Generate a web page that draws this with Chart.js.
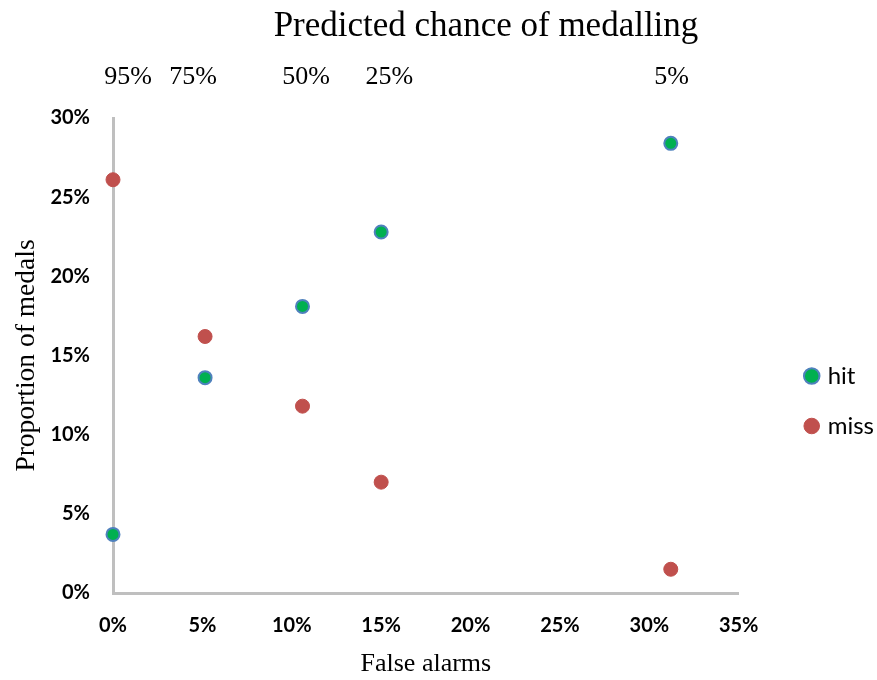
<!DOCTYPE html>
<html lang="en">
<head>
  <meta charset="UTF-8">
  <title>Predicted chance of medalling</title>
  <script src="https://cdn.jsdelivr.net/npm/chart.js"></script>
  <style>
    html, body { margin: 0; padding: 0; background: #fff; }
    #wrap { width: 877px; height: 680px; }
  </style>
</head>
<body>
  <div id="wrap"><canvas id="medalChart" width="877" height="680"></canvas></div>
  <script>
    // false alarm rate (x) and proportion of medals (y) per threshold
    const falseAlarms = [0, 0.0515, 0.106, 0.150, 0.312];
    const hitValues   = [0.037, 0.136, 0.181, 0.228, 0.284];
    const missValues  = [0.261, 0.162, 0.118, 0.070, 0.015];

    // top axis: predicted chance labels and where they sit on the x scale
    const chanceLabels    = ['95%', '75%', '50%', '25%', '5%'];
    const chancePositions = [0.0084, 0.0448, 0.108, 0.1546, 0.3125];

    const xTicks = [0, 0.05, 0.10, 0.15, 0.20, 0.25, 0.30, 0.35];
    const yTicks = [0, 0.05, 0.10, 0.15, 0.20, 0.25, 0.30];

    const serif = '"Liberation Serif", "Times New Roman", serif';
    const sans = 'Lato, Calibri, "Open Sans", sans-serif';
    const pct = v => Math.round(v * 100) + '%';

    const toPoints = ys => ys.map((y, i) => ({ x: falseAlarms[i], y: y }));

    // main title sits off-centre, so it is drawn here
    const topTitle = {
      id: 'topTitle',
      afterDraw(chart) {
        const ctx = chart.ctx;
        ctx.save();
        ctx.fillStyle = '#000';
        ctx.textAlign = 'center';
        ctx.textBaseline = 'alphabetic';
        ctx.font = '35px ' + serif;
        ctx.fillText('Predicted chance of medalling', 486, 36);
        ctx.restore();
      }
    };

    // move the legend further right and down, like the original
    const legendShift = {
      id: 'legendShift',
      afterLayout(chart) {
        const lg = chart.legend;
        if (!lg) return;
        const dx = 43, dy = 61;
        lg.left += dx; lg.right += dx;
        lg.top += dy; lg.bottom += dy;
      }
    };

    new Chart(document.getElementById('medalChart'), {
      type: 'scatter',
      data: {
        datasets: [
          {
            label: 'hit',
            data: toPoints(hitValues),
            backgroundColor: '#00B050',
            borderColor: '#4F81BD',
            borderWidth: 2,
            pointRadius: 6.5,
            pointHoverRadius: 6.5,
            clip: false
          },
          {
            label: 'miss',
            data: toPoints(missValues),
            backgroundColor: '#C0504D',
            borderColor: '#C0504D',
            borderWidth: 1,
            pointRadius: 7,
            pointHoverRadius: 7,
            clip: false
          }
        ]
      },
      options: {
        responsive: false,
        animation: false,
        layout: { padding: { left: 0, right: 36, top: 0, bottom: 0 } },
        plugins: {
          title: { display: false },
          tooltip: { enabled: false },
          legend: {
            position: 'right',
            labels: {
              usePointStyle: true,
              pointStyle: 'circle',
              boxHeight: 11,
              boxWidth: 8,
              padding: 26,
              color: '#000',
              font: { family: sans, size: 24 }
            }
          }
        },
        scales: {
          x: {
            type: 'linear',
            position: 'bottom',
            min: 0,
            max: 0.35,
            afterBuildTicks: s => { s.ticks = xTicks.map(v => ({ value: v })); },
            afterFit: s => { s.height = 87; },
            grid: { display: false, drawTicks: false },
            border: { display: true, color: '#BFBFBF', width: 3 },
            title: {
              display: true,
              text: 'False alarms',
              color: '#000',
              font: { family: serif, size: 26 },
              padding: { top: 0, bottom: 0 }
            },
            ticks: {
              padding: 21,
              color: '#000',
              font: { family: sans, size: 20, weight: 'bold' },
              callback: v => pct(v)
            }
          },
          x2: {
            type: 'linear',
            position: 'top',
            min: 0,
            max: 0.35,
            afterBuildTicks: s => { s.ticks = chancePositions.map(v => ({ value: v })); },
            afterFit: s => { s.height = 118; },
            grid: { display: false, drawTicks: false },
            border: { display: false },
            ticks: {
              padding: 25,
              autoSkip: false,
              maxRotation: 0,
              color: '#000',
              font: { family: serif, size: 26 },
              callback: (v, i) => chanceLabels[i]
            }
          },
          y: {
            type: 'linear',
            min: 0,
            max: 0.30,
            afterBuildTicks: s => { s.ticks = yTicks.map(v => ({ value: v })); },
            afterFit: s => { s.width = 113; },
            grid: { display: false, drawTicks: false },
            border: { display: true, color: '#BFBFBF', width: 3 },
            title: {
              display: true,
              text: 'Proportion of medals',
              color: '#000',
              font: { family: serif, size: 27.5 },
              padding: { top: 10, bottom: 0 }
            },
            ticks: {
              padding: 23,
              color: '#000',
              font: { family: sans, size: 20, weight: 'bold' },
              callback: v => pct(v)
            }
          }
        }
      },
      plugins: [topTitle, legendShift]
    });
  </script>
</body>
</html>
